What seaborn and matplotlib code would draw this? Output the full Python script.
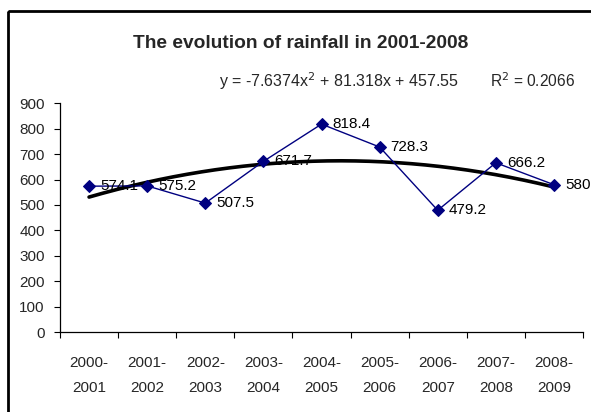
import numpy as np
import pandas as pd
import matplotlib
matplotlib.use("Agg")
import matplotlib.pyplot as plt
from matplotlib.patches import Rectangle
import seaborn as sns

sns.set_theme(style="white")
plt.rcParams["font.family"] = ["Liberation Sans", "DejaVu Sans"]

# Seasonal rainfall totals (mm)
seasons = ["2000-\n2001", "2001-\n2002", "2002-\n2003", "2003-\n2004", "2004-\n2005",
           "2005-\n2006", "2006-\n2007", "2007-\n2008", "2008-\n2009"]
rainfall = [574.1, 575.2, 507.5, 671.7, 818.4, 728.3, 479.2, 666.2, 580]
y_ticks = [0, 100, 200, 300, 400, 500, 600, 700, 800, 900]

W, H = 591, 412
fig = plt.figure(figsize=(W / 100, H / 100), dpi=100)
fig.patch.set_facecolor("white")

# outer chart frame
fig.patches.append(Rectangle((7.5 / W, 1 - 10.5 / H), 1.0, -1.2, transform=fig.transFigure,
                             fill=False, edgecolor="black", linewidth=2.0, clip_on=False))

left, right, top, bottom = 60, 583, 103.4, 332
ax = fig.add_axes([left / W, 1 - bottom / H, (right - left) / W, (bottom - top) / H])

df = pd.DataFrame({"pos": np.arange(len(seasons)), "rain": rainfall})

# quadratic trend (x = 1..n)
xs = np.arange(1, len(rainfall) + 1)
coef = np.polyfit(xs, rainfall, 2)
fine = np.linspace(1, len(rainfall), 200)
trend = np.polyval(coef, fine)
pred = np.polyval(coef, xs)
r2 = 1 - np.sum((np.array(rainfall) - pred) ** 2) / np.sum((np.array(rainfall) - np.mean(rainfall)) ** 2)

sns.lineplot(x=fine - 1, y=trend, ax=ax, color="black", linewidth=2.6, zorder=2)
sns.lineplot(data=df, x="pos", y="rain", ax=ax, color="#000080", linewidth=1.0,
             marker="D", markersize=6, markeredgecolor="#000080", zorder=3)

for i, v in enumerate(rainfall):
    ax.annotate(f"{v:g}", (i, v), xytext=(8, 0), textcoords="offset points",
                ha="left", va="center", fontsize=11, color="black", zorder=4)

ax.set_xlim(-0.5, len(seasons) - 0.5)
ax.set_ylim(0, 900)
ax.set_yticks(y_ticks)
ax.set_xticks(np.arange(-0.5, len(seasons)), labels=[""] * (len(seasons) + 1))
ax.set_xticks(np.arange(len(seasons)), labels=seasons, minor=True)
ax.tick_params(axis="x", which="major", length=4, width=0.8, direction="out", color="black", bottom=True)
ax.tick_params(axis="x", which="minor", length=0, pad=17, labelsize=11)
ax.tick_params(axis="y", length=4, width=0.8, direction="out", color="black", left=True, pad=7, labelsize=11)
for lbl in ax.get_xticklabels(minor=True):
    lbl.set_linespacing(2.0)
ax.set_xlabel("")
ax.set_ylabel("")
for s in ["top", "right"]:
    ax.spines[s].set_visible(False)
for s in ["left", "bottom"]:
    ax.spines[s].set_color("black")
    ax.spines[s].set_linewidth(0.9)

fig.text(301 / W, 1 - 43 / H, "The evolution of rainfall in 2001-2008", ha="center", va="center",
         fontsize=13.8, fontweight="bold")
fig.text(219 / W, 1 - 81 / H,
         f"y = {coef[0]:.4f}x$^2$ + {coef[1]:.3f}x + {coef[2]:.2f}",
         ha="left", va="center", fontsize=11.5)
fig.text(490 / W, 1 - 81 / H, f"R$^2$ = {r2:.4f}", ha="left", va="center", fontsize=11.2)

fig.savefig("out.png", dpi=100)
